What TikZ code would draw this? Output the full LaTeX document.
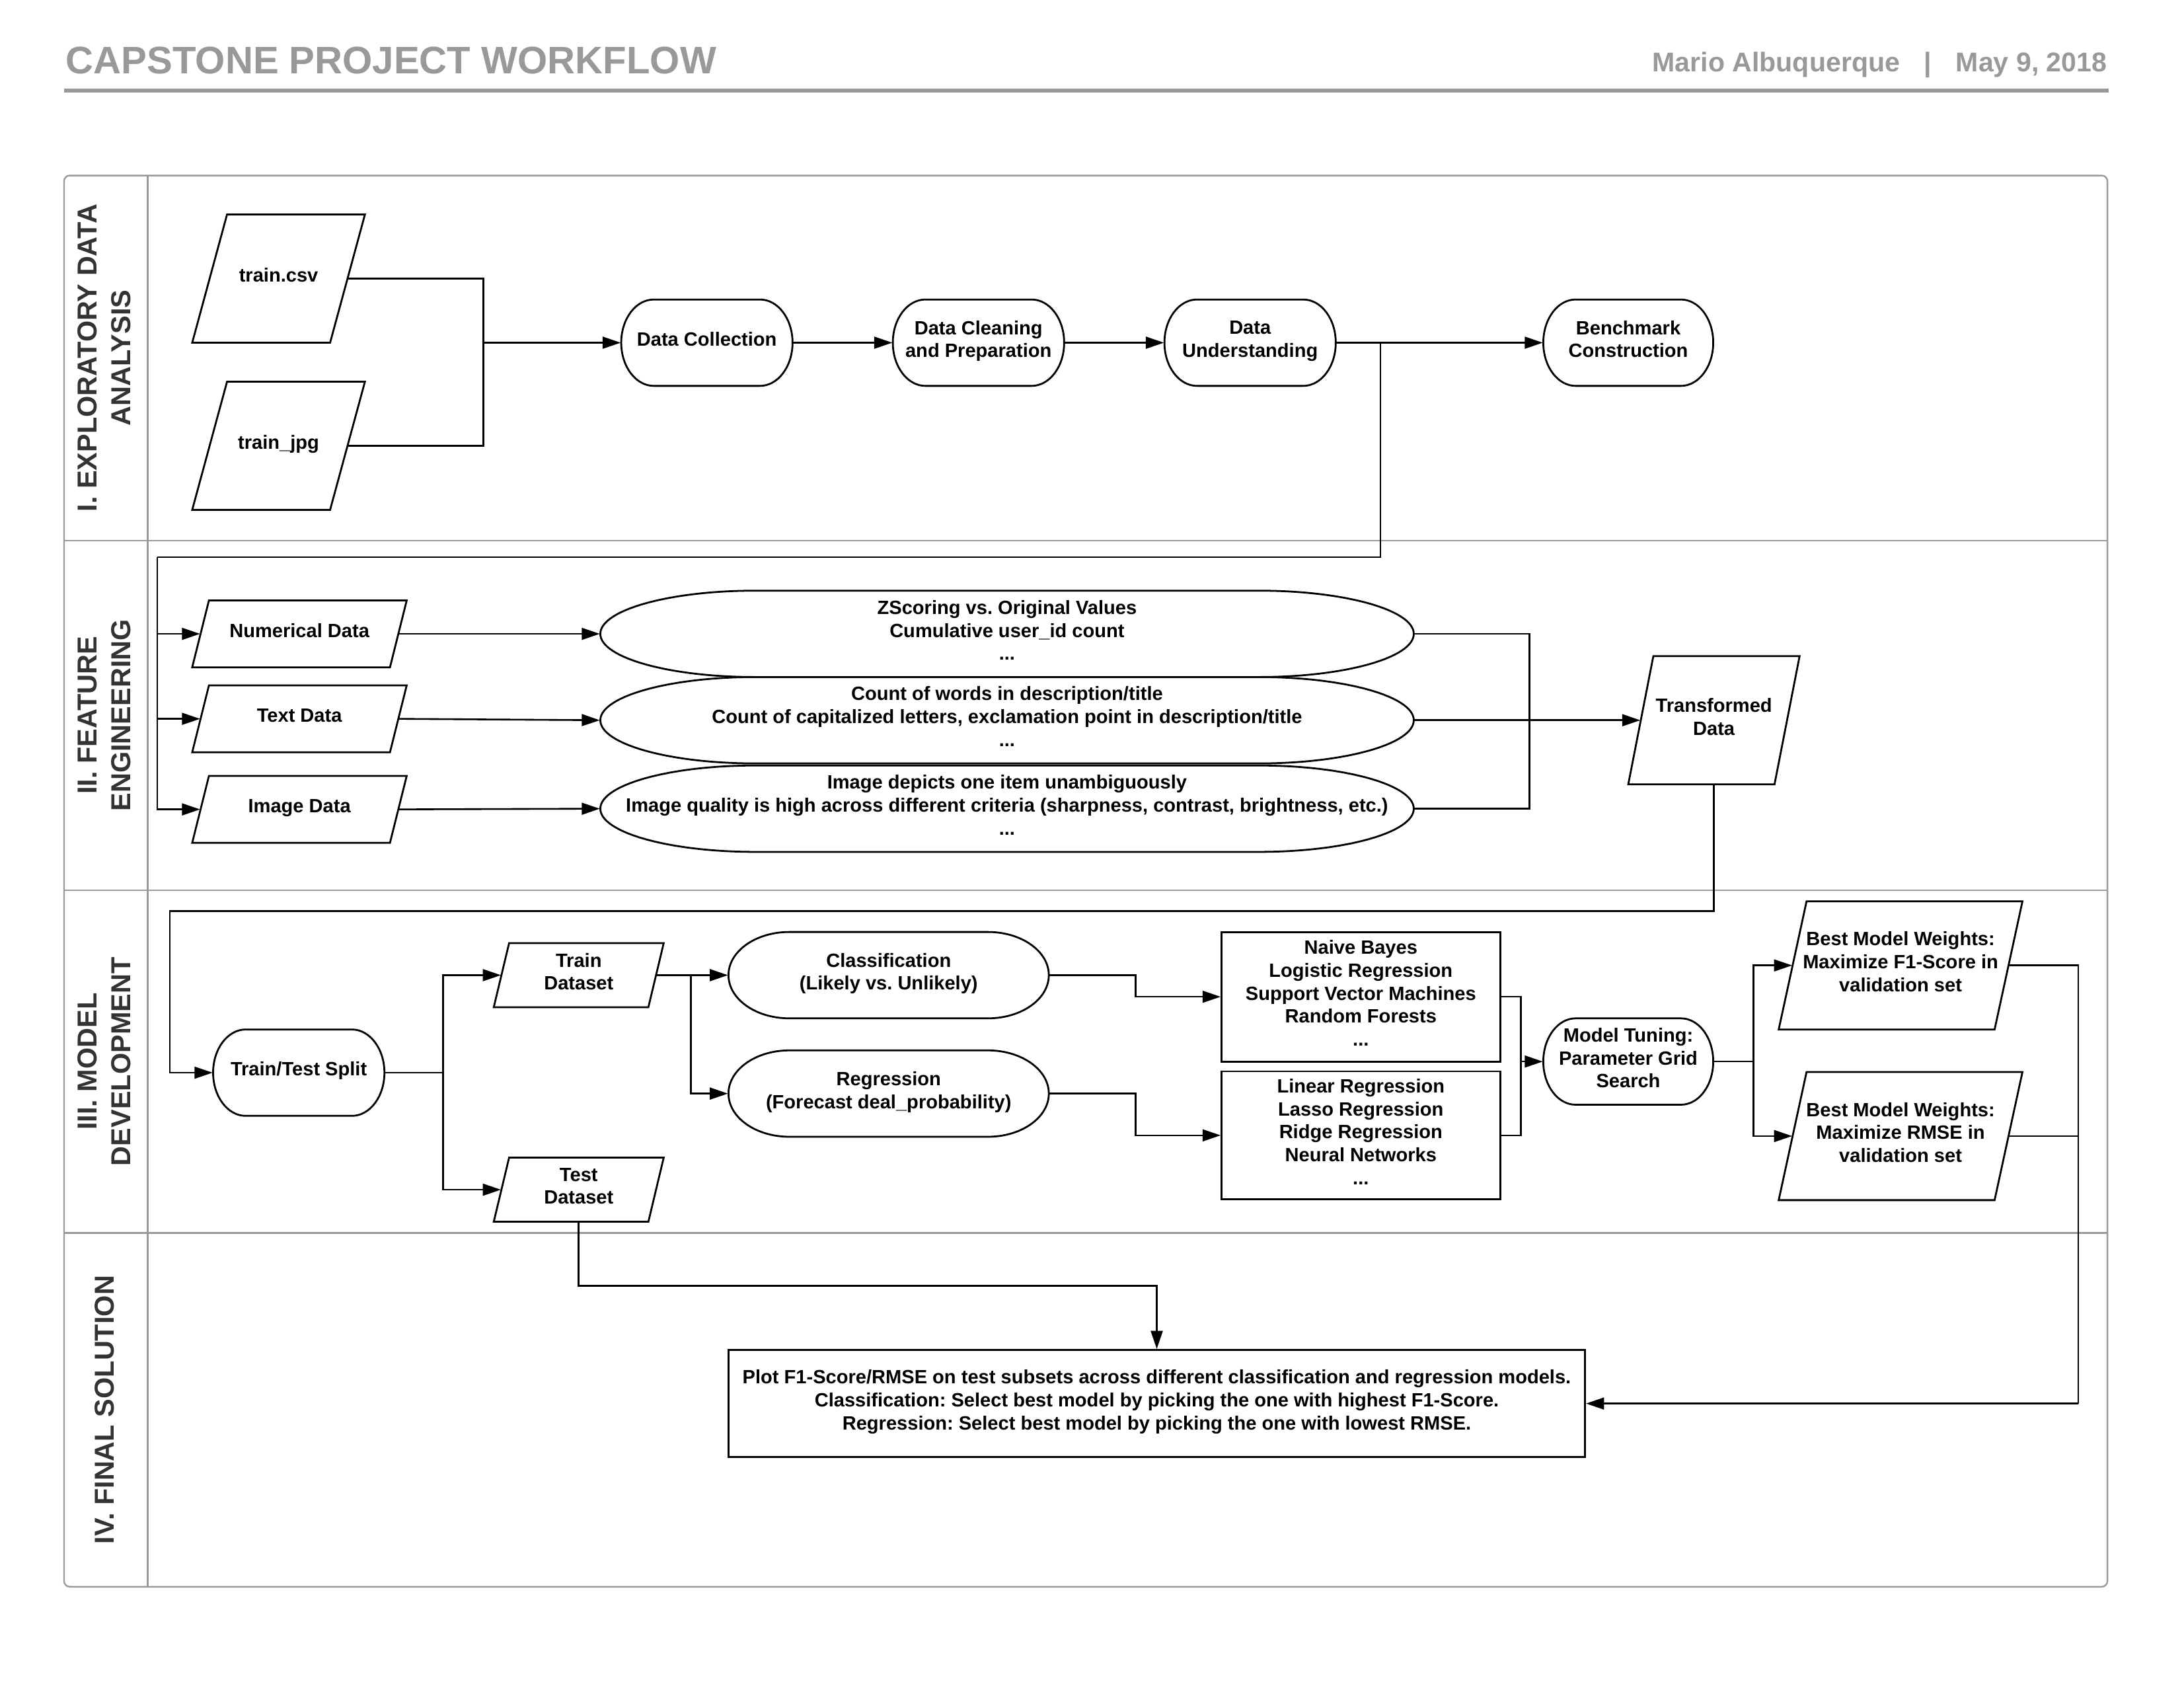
\documentclass[tikz,border=0pt]{standalone}
\usepackage{fontspec}
\setmainfont{Liberation Sans}
\usetikzlibrary{arrows.meta}
\definecolor{xam}{RGB}{153,153,153}
\definecolor{xamdam}{RGB}{51,51,51}
\frenchspacing
\def\dv{0.02cm}
%Khối bo tròn hai đầu: tên, x, y, rộng, cao, chữ
\newcommand{\tron}[6]{%
	\node[chu, minimum width=#4*\dv, minimum height=#5*\dv] (#1) at (#2,#3) {#6};
	\draw[vien] ({#2+0.31*#4},{#3-#5/2}) arc[start angle=90, end angle=-90, x radius=0.19*#4*\dv, y radius=#5/2*\dv]
	-- ({#2-0.31*#4},{#3+#5/2}) arc[start angle=270, end angle=90, x radius=0.19*#4*\dv, y radius=#5/2*\dv] -- cycle;}
%Hình bình hành: tên, x, y, cạnh, cao, độ lệch, chữ
\newcommand{\xien}[7]{%
	\node[chu, minimum width=#4*\dv, minimum height=#5*\dv] (#1) at (#2,#3) {#7};
	\draw[vien] ({#2-#4/2-#6/2},{#3+#5/2}) -- ++(#4,0) -- ++(#6,-#5) -- ++(-#4,0) -- cycle;}
\tikzset{
	chu/.style={font=\fontsize{7.85}{9.4}\selectfont\bfseries, align=center, inner sep=0pt, text depth=0.3em},
	vien/.style={draw=black, line width=0.75pt},
	hop/.style={chu, vien, draw},
	noi/.style={line width=0.7pt},
	khung/.style={draw=xam, line width=0.65pt},
	nhan/.style={font=\fontsize{11.2}{13.7}\selectfont\bfseries, text=xamdam, align=center, rotate=90, inner sep=0pt}
}
\begin{document}
\begin{tikzpicture}[x=0.02cm, y=-0.02cm, >={Triangle[length=0.26cm,width=0.17cm]}]
	\useasboundingbox (0,0) rectangle (1568,1210);
	%Tiêu đề
	\node[anchor=base west, inner sep=0pt, text=xam, font=\fontsize{15.7}{18}\selectfont\bfseries] (tieude) at (47,53) {CAPSTONE PROJECT WORKFLOW};
	\node[anchor=base east, inner sep=0pt, text=xam, font=\fontsize{11.1}{13}\selectfont\bfseries] (tacgia) at (1513,51.5) {Mario Albuquerque\hspace{0.89em}|\hspace{0.89em}May 9, 2018};
	\draw[xam, line width=1.5pt] (46,65)--(1514,65);
	%Các làn
	\draw[khung, rounded corners=0.08cm] (46,126) rectangle (1513,1139);
	\draw[khung] (106,126)--(106,1139);
	\foreach \y in {388,639,885}
	\draw[khung] (46,\y)--(1513,\y);
	\foreach \y/\ten [count=\i] in {257/{I. EXPLORATORY DATA\\ANALYSIS}, 513.5/{II. FEATURE\\ENGINEERING}, 762/{III. MODEL\\DEVELOPMENT}, 1012/{IV. FINAL SOLUTION}}
	\node[nhan] (lan\i) at (75,\y) {\ten};
	%Làn I
	\xien{csv}{200}{200}{99}{92}{25}{train.csv}
	\xien{jpg}{200}{320}{99}{92}{25}{train\_jpg}
	\tron{dc}{507.5}{246}{123}{62}{Data Collection}
	\tron{clean}{702.5}{246}{123}{62}{Data Cleaning\\and Preparation}
	\tron{und}{897.5}{246}{123}{62}{Data\\Understanding}
	\tron{bench}{1169}{246}{122}{62}{Benchmark\\Construction}
	%Làn II
	\xien{num}{215}{455}{142}{48}{12}{Numerical Data}
	\xien{txt}{215}{516}{142}{48}{12}{Text Data}
	\xien{img}{215}{581}{142}{48}{12}{Image Data}
	\tron{e1}{723}{455}{584}{62}{ZScoring vs. Original Values\\Cumulative user\_id count\\...}
	\tron{e2}{723}{517}{584}{62}{Count of words in description/title\\Count of capitalized letters, exclamation point in description/title\\...}
	\tron{e3}{723}{580.5}{584}{62}{Image depicts one item unambiguously\\Image quality is high across different criteria (sharpness, contrast, brightness, etc.)\\...}
	\xien{trans}{1230.5}{517}{105}{92}{18}{Transformed\\Data}
	%Làn III
	\tron{split}{214.5}{770}{123}{62}{Train/Test Split}
	\xien{trainds}{415.5}{700}{111}{46}{11}{Train\\Dataset}
	\xien{testds}{415.5}{854}{111}{46}{11}{Test\\Dataset}
	\tron{cls}{638}{700}{230}{62}{Classification\\(Likely vs. Unlikely)}
	\tron{reg}{638}{785}{230}{62}{Regression\\(Forecast deal\_probability)}
	\node[hop, minimum width=200*\dv, minimum height=93*\dv] (box1) at (977,715.5) {Naive Bayes\\Logistic Regression\\Support Vector Machines\\Random Forests\\...};
	\node[hop, minimum width=200*\dv, minimum height=92*\dv] (box2) at (977,815) {Linear Regression\\Lasso Regression\\Ridge Regression\\Neural Networks\\...};
	\tron{tune}{1169}{762}{122}{62}{Model Tuning:\\Parameter Grid\\Search}
	\xien{bm1}{1364.5}{693}{155}{92}{20}{Best Model Weights:\\Maximize F1-Score in\\validation set}
	\xien{bm2}{1364.5}{815.5}{155}{92}{20}{Best Model Weights:\\Maximize RMSE in\\validation set}
	%Làn IV
	\node[hop, minimum width=615*\dv, minimum height=77*\dv] (final) at (830.5,1007.5) {Plot F1-Score/RMSE on test subsets across different classification and regression models.\\Classification: Select best model by picking the one with highest F1-Score.\\Regression: Select best model by picking the one with lowest RMSE.};
	%Các điểm rẽ
	\coordinate (j1) at (347,246);
	\coordinate (j2) at (991,246);
	\coordinate (k1) at (113,400);
	\coordinate (j3) at (1098,517);
	\coordinate (k2) at (122,654);
	\coordinate (j4) at (318,770);
	\coordinate (j5) at (496,700);
	\coordinate (j6) at (1092,762);
	\coordinate (j7) at (1259,762);
	\coordinate (j8) at (1492,1007.5);
	\coordinate (j9) at (830.5,923);
	%Mũi tên làn I
	\draw[noi] (csv.east) -| (j1);
	\draw[noi] (jpg.east) -| (j1);
	\draw[noi,->] (j1)--(dc.west);
	\draw[noi,->] (dc.east)--(clean.west);
	\draw[noi,->] (clean.east)--(und.west);
	\draw[noi,->] (und.east)--(bench.west);
	\draw[noi] (j2) |- (k1);
	%Mũi tên làn II
	\foreach \d in {num,txt,img}
	\draw[noi,->] (k1) |- (\d.west);
	\draw[noi,->] (num.east)--(e1.west);
	\draw[noi,->] (txt.east)--(e2.west);
	\draw[noi,->] (img.east)--(e3.west);
	\draw[noi] (e1.east) -| (j3);
	\draw[noi] (e3.east) -| (j3);
	\draw[noi,->] (e2.east)--(trans.west);
	\draw[noi,->] (trans.south) |- (k2) |- (split.west);
	%Mũi tên làn III
	\draw[noi] (split.east)--(j4);
	\draw[noi,->] (j4) |- (trainds.west);
	\draw[noi,->] (j4) |- (testds.west);
	\draw[noi,->] (trainds.east)--(cls.west);
	\draw[noi,->] (j5) |- (reg.west);
	\draw[noi,->] (cls.east)--++(62,0) |- (box1.west);
	\draw[noi,->] (reg.east)--++(62,0) |- (box2.west);
	\draw[noi] (box1.east) -| (j6);
	\draw[noi] (box2.east) -| (j6);
	\draw[noi,->] (j6)--(tune.west);
	\draw[noi] (tune.east)--(j7);
	\draw[noi,->] (j7) |- (bm1.west);
	\draw[noi,->] (j7) |- (bm2.west);
	%Mũi tên làn IV
	\draw[noi] (bm1.east) -| (j8);
	\draw[noi] (bm2.east) -| (j8);
	\draw[noi,->] (j8)--(final.east);
	\draw[noi,->] (testds.south) |- (j9)--(final.north);
\end{tikzpicture}
\end{document}
